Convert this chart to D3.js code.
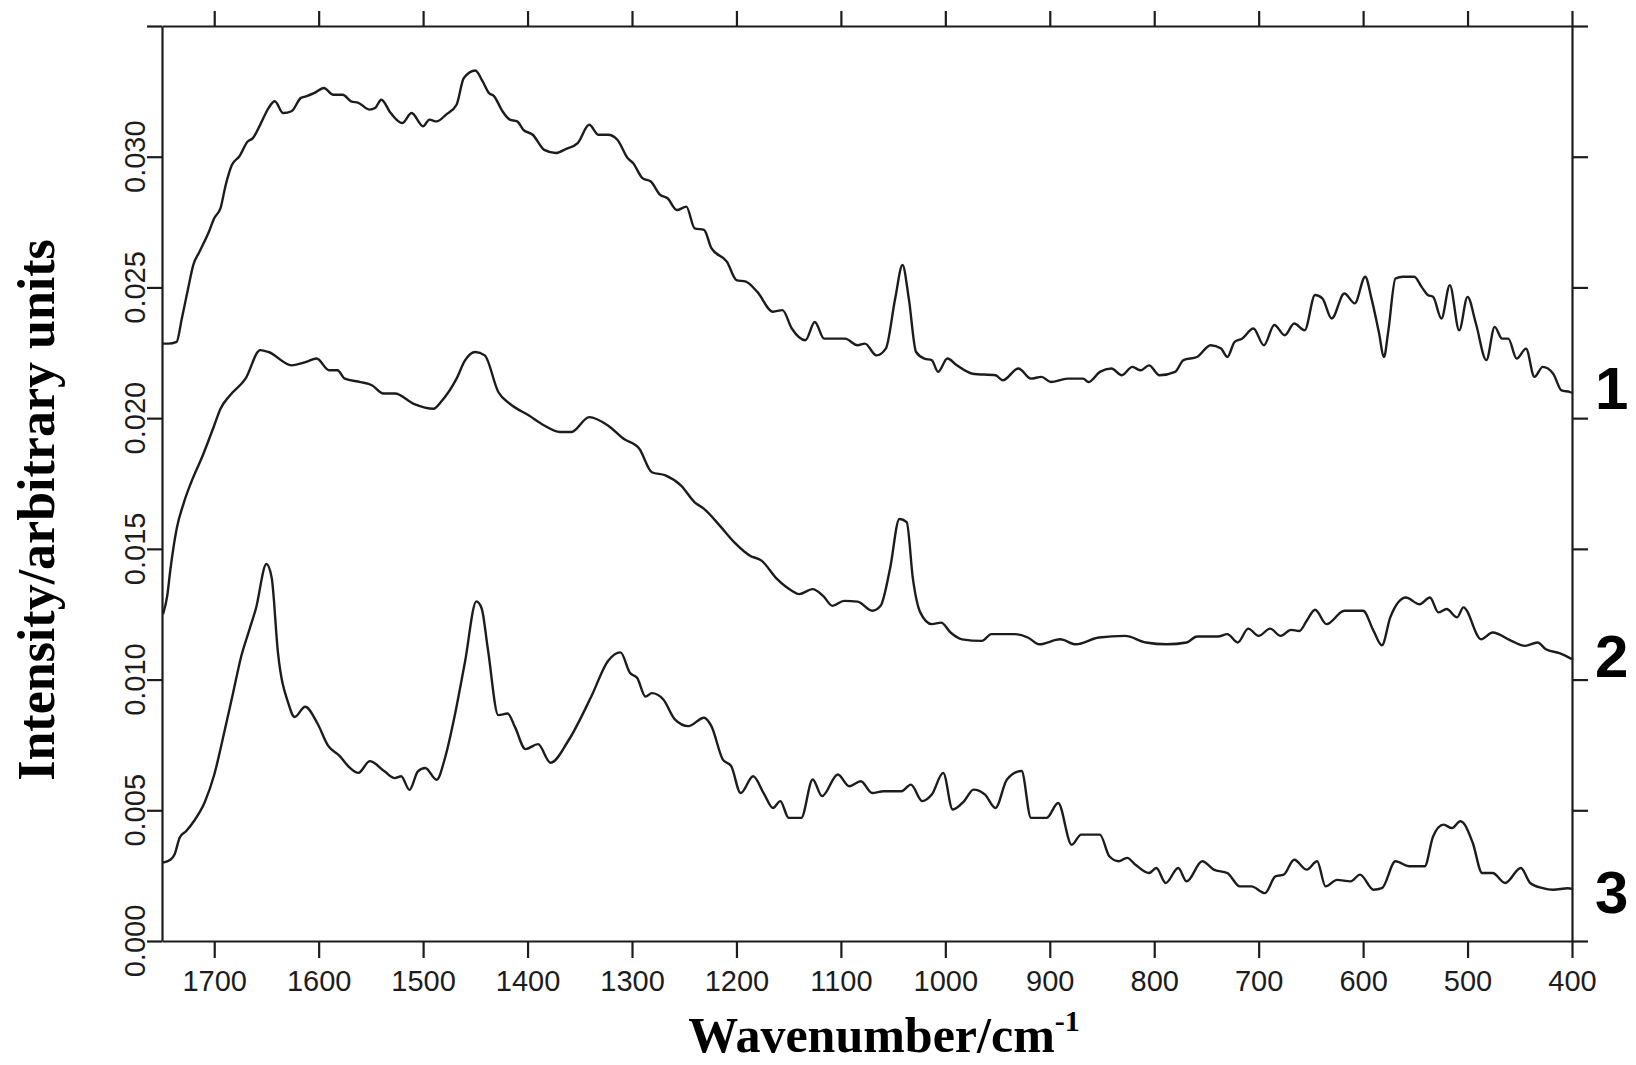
<!DOCTYPE html>
<html>
<head>
<meta charset="utf-8">
<script src="https://cdn.jsdelivr.net/npm/d3@7"></script>
<style>
  html, body { margin: 0; padding: 0; background: #ffffff; }
  svg { display: block; }
</style>
</head>
<body>
<svg id="chart" width="1636" height="1065"></svg>
<script>
// ---------------- data ----------------
const xTickValues = [1700, 1600, 1500, 1400, 1300, 1200, 1100, 1000, 900, 800, 700, 600, 500, 400];
const yTickValues = [0, 0.005, 0.010, 0.015, 0.020, 0.025, 0.030, 0.035];
const yTickLabels = ["0.000", "0.005", "0.010", "0.015", "0.020", "0.025", "0.030"];
const seriesLabels = ["1", "2", "3"];
const xTitle = "Wavenumber/cm";
const xTitleSup = "-1";
const yTitle = "Intensity/arbitrary units";

const wn1 = [1749,1744,1736,1731,1725,1720,1714,1705,1700,1694,1689,1683,1676,1668,1663,1656,1648,1642,1634,1626,1617,1612,1604,1595,1586,1577,1569,1562,1551,1546,1540,1531,1520,1511,1500,1494,1487,1478,1468,1461,1450,1443,1437,1432,1424,1417,1410,1404,1395,1384,1373,1363,1352,1341,1332,1323,1314,1304,1299,1290,1282,1273,1266,1257,1248,1240,1231,1224,1209,1200,1191,1180,1165,1156,1147,1134,1125,1116,1096,1084,1077,1066,1057,1048,1041,1035,1028,1020,1013,1007,998,989,974,952,945,930,918,908,899,883,868,863,852,841,831,821,813,805,795,780,772,759,746,736,730,723,716,705,695,685,675,666,656,646,639,630,618,608,598,592,585,580,576,569,562,551,544,538,533,525,517,508,500,492,482,474,467,461,453,444,436,428,418,410,402,400];
const int1 = [0.02285,0.02285,0.02292,0.02381,0.02496,0.02586,0.02637,0.02714,0.02765,0.02803,0.02892,0.02969,0.03001,0.03058,0.03071,0.03122,0.03186,0.03212,0.03167,0.03174,0.03225,0.03231,0.03244,0.03263,0.03237,0.03237,0.03212,0.03206,0.03180,0.03186,0.03218,0.03167,0.03129,0.03167,0.03116,0.03142,0.03135,0.03161,0.03199,0.03301,0.03330,0.03288,0.03244,0.03231,0.03174,0.03142,0.03135,0.03103,0.03084,0.03026,0.03014,0.03030,0.03052,0.03122,0.03084,0.03084,0.03065,0.02994,0.02976,0.02918,0.02905,0.02854,0.02841,0.02796,0.02809,0.02726,0.02720,0.02650,0.02598,0.02528,0.02522,0.02483,0.02407,0.02413,0.02343,0.02298,0.02368,0.02304,0.02304,0.02279,0.02285,0.02240,0.02266,0.02458,0.02586,0.02458,0.02253,0.02228,0.02222,0.02177,0.02228,0.02202,0.02170,0.02164,0.02145,0.02190,0.02151,0.02158,0.02138,0.02151,0.02151,0.02138,0.02177,0.02190,0.02164,0.02196,0.02183,0.02202,0.02164,0.02177,0.02222,0.02234,0.02279,0.02266,0.02234,0.02292,0.02304,0.02343,0.02279,0.02356,0.02317,0.02362,0.02336,0.02471,0.02458,0.02381,0.02477,0.02439,0.02541,0.02458,0.02330,0.02234,0.02330,0.02534,0.02541,0.02541,0.02502,0.02471,0.02464,0.02381,0.02509,0.02336,0.02464,0.02362,0.02222,0.02349,0.02304,0.02304,0.02228,0.02266,0.02158,0.02196,0.02170,0.02106,0.02100,0.02096];

const wn2 = [1749,1745,1742,1736,1729,1722,1711,1700,1694,1685,1670,1656,1648,1626,1612,1602,1590,1582,1575,1560,1549,1538,1527,1509,1490,1483,1468,1460,1450,1441,1428,1417,1399,1384,1369,1358,1341,1323,1308,1293,1281,1268,1253,1240,1231,1216,1202,1187,1176,1161,1147,1140,1127,1117,1108,1097,1084,1070,1062,1053,1044,1037,1031,1024,1013,1004,995,984,965,956,934,921,910,890,875,853,828,808,788,769,759,739,730,720,710,700,689,679,669,661,654,646,635,618,600,590,582,574,559,546,536,528,520,510,504,487,476,458,445,433,425,412,400];
const int2 = [0.01250,0.01320,0.01420,0.01576,0.01678,0.01755,0.01857,0.01972,0.02036,0.02087,0.02151,0.02260,0.02253,0.02202,0.02215,0.02228,0.02183,0.02183,0.02151,0.02138,0.02126,0.02094,0.02094,0.02055,0.02036,0.02062,0.02151,0.02220,0.02253,0.02240,0.02100,0.02055,0.02011,0.01972,0.01947,0.01947,0.02004,0.01972,0.01921,0.01883,0.01793,0.01781,0.01742,0.01678,0.01653,0.01589,0.01525,0.01474,0.01455,0.01384,0.01340,0.01327,0.01346,0.01320,0.01282,0.01301,0.01298,0.01263,0.01282,0.01423,0.01614,0.01602,0.01384,0.01257,0.01212,0.01218,0.01180,0.01154,0.01148,0.01174,0.01174,0.01161,0.01135,0.01154,0.01135,0.01161,0.01167,0.01142,0.01135,0.01142,0.01165,0.01165,0.01174,0.01142,0.01195,0.01167,0.01195,0.01167,0.01190,0.01186,0.01225,0.01267,0.01212,0.01263,0.01263,0.01186,0.01131,0.01238,0.01314,0.01288,0.01314,0.01257,0.01270,0.01238,0.01276,0.01154,0.01180,0.01148,0.01129,0.01142,0.01116,0.01101,0.01078];

const wn3 = [1749,1742,1738,1733,1727,1719,1709,1700,1690,1682,1674,1666,1660,1650,1645,1639,1629,1623,1613,1601,1591,1580,1570,1562,1551,1537,1527,1521,1513,1505,1498,1487,1479,1470,1460,1449,1444,1438,1428,1419,1412,1402,1390,1378,1361,1339,1323,1311,1302,1295,1287,1281,1270,1259,1246,1231,1224,1213,1205,1196,1184,1174,1165,1158,1150,1138,1127,1118,1103,1092,1081,1070,1059,1042,1033,1022,1013,1002,993,982,973,962,952,941,927,918,903,892,879,870,852,843,834,826,818,805,798,789,777,769,754,743,730,718,707,694,684,676,666,654,644,636,625,612,603,590,582,569,556,541,533,523,515,507,504,495,486,476,464,449,440,428,418,404,400];
const int3 = [0.00300,0.00311,0.00331,0.00396,0.00420,0.00461,0.00532,0.00636,0.00805,0.00948,0.01091,0.01195,0.01273,0.01442,0.01390,0.01104,0.00909,0.00857,0.00896,0.00831,0.00747,0.00708,0.00662,0.00643,0.00688,0.00649,0.00623,0.00630,0.00578,0.00649,0.00662,0.00617,0.00701,0.00857,0.01065,0.01299,0.01273,0.01117,0.00864,0.00870,0.00818,0.00734,0.00753,0.00682,0.00766,0.00935,0.01071,0.01104,0.01026,0.01006,0.00935,0.00948,0.00924,0.00848,0.00822,0.00854,0.00822,0.00694,0.00669,0.00566,0.00630,0.00566,0.00509,0.00535,0.00471,0.00471,0.00618,0.00554,0.00637,0.00592,0.00611,0.00566,0.00573,0.00573,0.00598,0.00535,0.00560,0.00643,0.00503,0.00535,0.00579,0.00560,0.00509,0.00618,0.00650,0.00471,0.00471,0.00528,0.00368,0.00407,0.00407,0.00324,0.00305,0.00318,0.00292,0.00260,0.00279,0.00222,0.00279,0.00228,0.00305,0.00273,0.00260,0.00209,0.00209,0.00183,0.00247,0.00254,0.00311,0.00273,0.00305,0.00209,0.00234,0.00228,0.00254,0.00196,0.00202,0.00305,0.00286,0.00286,0.00400,0.00445,0.00432,0.00458,0.00452,0.00375,0.00260,0.00260,0.00222,0.00279,0.00222,0.00202,0.00196,0.00202,0.00200];

const series = [
  { label: seriesLabels[0], wn: wn1, val: int1 },
  { label: seriesLabels[1], wn: wn2, val: int2 },
  { label: seriesLabels[2], wn: wn3, val: int3 }
];

// ---------------- drawing ----------------
const ink = "#1c1c1c";
const svg = d3.select("#chart");

const x = d3.scaleLinear().domain([1750, 400]).range([162, 1572]);
const y = d3.scaleLinear().domain([0, 0.035]).range([941, 26]);

function styleAxis(g) {
  g.selectAll("path.domain").attr("stroke", ink).attr("stroke-width", 2.2);
  g.selectAll(".tick line").attr("stroke", ink).attr("stroke-width", 2.2);
}

// bottom axis with labels
const gBottom = svg.append("g")
  .attr("transform", `translate(0,${y(0)})`)
  .call(d3.axisBottom(x).tickValues(xTickValues).tickSize(17).tickSizeOuter(0)
        .tickPadding(12).tickFormat(d3.format("d")));
styleAxis(gBottom);
gBottom.selectAll("text")
  .attr("fill", ink)
  .style("font-family", "'Liberation Sans', Arial, sans-serif")
  .style("font-size", "29px");

// top axis (ticks only)
const gTop = svg.append("g")
  .attr("transform", `translate(0,${y(0.035)})`)
  .call(d3.axisTop(x).tickValues(xTickValues).tickSize(15).tickSizeOuter(0).tickFormat(""));
styleAxis(gTop);

// left axis (ticks), labels rotated
const gLeft = svg.append("g")
  .attr("transform", `translate(${x(1750)},0)`)
  .call(d3.axisLeft(y).tickValues(yTickValues).tickSize(15).tickSizeOuter(0).tickFormat(""));
styleAxis(gLeft);

svg.append("g").selectAll("text")
  .data(yTickLabels)
  .join("text")
  .attr("transform", (d, i) => `translate(${x(1750) - 17},${y(yTickValues[i])}) rotate(-90)`)
  .attr("text-anchor", "middle")
  .attr("fill", ink)
  .style("font-family", "'Liberation Sans', Arial, sans-serif")
  .style("font-size", "29px")
  .text(d => d);

// right axis (ticks only)
const gRight = svg.append("g")
  .attr("transform", `translate(${x(400)},0)`)
  .call(d3.axisRight(y).tickValues(yTickValues).tickSize(16).tickSizeOuter(0).tickFormat(""));
styleAxis(gRight);

// spectra
const line = d3.line()
  .x(d => x(d[0]))
  .y(d => y(d[1]))
  .curve(d3.curveMonotoneX);

series.forEach(s => {
  const pts = s.wn.map((w, i) => [w, s.val[i]]);
  svg.append("path")
    .datum(pts)
    .attr("d", line)
    .attr("fill", "none")
    .attr("stroke", ink)
    .attr("stroke-width", 2.4)
    .attr("stroke-linejoin", "round");
});

// series labels
const labelOffsets = [16, 18, 24];
series.forEach((s, i) => {
  svg.append("text")
    .attr("x", x(400) + 23)
    .attr("y", y(s.val[s.val.length - 1]) + labelOffsets[i])
    .attr("fill", "#000")
    .style("font-family", "'Liberation Sans', Arial, sans-serif")
    .style("font-weight", "bold")
    .style("font-size", "60px")
    .text(s.label);
});

// axis titles
const xt = svg.append("text")
  .attr("x", 884)
  .attr("y", 1052)
  .attr("text-anchor", "middle")
  .attr("fill", "#000")
  .style("font-family", "'Liberation Serif', 'Times New Roman', serif")
  .style("font-weight", "bold")
  .style("font-size", "50px");
xt.append("tspan").text(xTitle);
xt.append("tspan").attr("dy", -21).style("font-size", "30px").text(xTitleSup);

svg.append("text")
  .attr("transform", "translate(54,510) rotate(-90)")
  .attr("text-anchor", "middle")
  .attr("fill", "#000")
  .style("font-family", "'Liberation Serif', 'Times New Roman', serif")
  .style("font-weight", "bold")
  .style("font-size", "52px")
  .text(yTitle);
</script>
</body>
</html>
